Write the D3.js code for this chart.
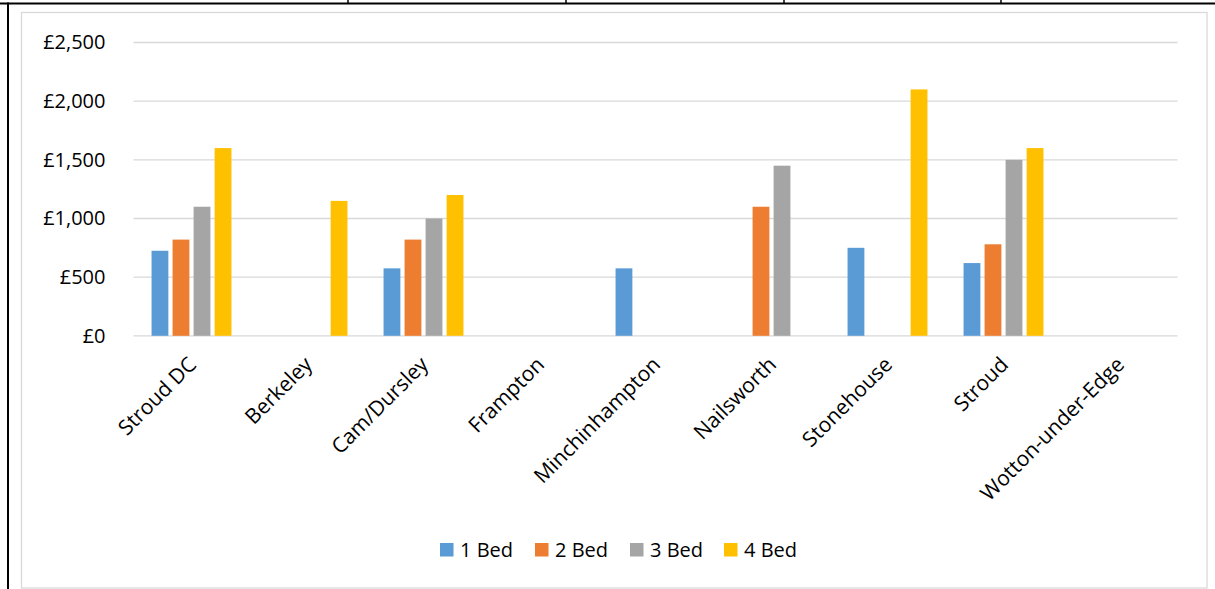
<!DOCTYPE html>
<html>
<head>
<meta charset="utf-8">
<script src="https://cdn.jsdelivr.net/npm/d3@7"></script>
<style>
  html, body { margin: 0; padding: 0; background: #fff; }
  svg { display: block; }
  text { font-family: "Open Sans", "Liberation Sans", sans-serif; fill: #000; }
</style>
</head>
<body>
<svg id="chart" width="1215" height="589"></svg>
<script>
// Average monthly private rents by area and bedroom count
const areas = ["Stroud DC", "Berkeley", "Cam/Dursley", "Frampton", "Minchinhampton",
               "Nailsworth", "Stonehouse", "Stroud", "Wotton-under-Edge"];
const seriesNames = ["1 Bed", "2 Bed", "3 Bed", "4 Bed"];
const bed1 = [725, null, 575, null, 575, null, 750, 620, null];
const bed2 = [820, null, 820, null, null, 1100, null, 780, null];
const bed3 = [1100, null, 1000, null, null, 1450, null, 1500, null];
const bed4 = [1600, 1150, 1200, null, null, null, 2100, 1600, null];
const yTicks = [0, 500, 1000, 1500, 2000, 2500];
const colors = ["#5B9BD5", "#ED7D31", "#A5A5A5", "#FFC000"];

const seriesValues = [bed1, bed2, bed3, bed4];

const svg = d3.select("#chart");
const W = 1215, H = 589;

// Surrounding table rules
svg.append("line").attr("x1", 0).attr("x2", W).attr("y1", 3.5).attr("y2", 3.5)
  .attr("stroke", "#000").attr("stroke-width", 2);
svg.append("line").attr("x1", 8).attr("x2", 8).attr("y1", 2.5).attr("y2", H)
  .attr("stroke", "#000").attr("stroke-width", 2);
[348, 566, 784, 1001].forEach(x => {
  svg.append("line").attr("x1", x).attr("x2", x).attr("y1", 0).attr("y2", 4)
    .attr("stroke", "#000").attr("stroke-width", 1.5);
});

// Chart area frame
svg.append("rect").attr("x", 21.5).attr("y", 12.5).attr("width", 1185.5).attr("height", 575.5)
  .attr("fill", "#fff").attr("stroke", "#d9d9d9").attr("stroke-width", 1.3);

const plot = { left: 133.5, right: 1177.5, top: 42.5, bottom: 335.8 };

const x0 = d3.scaleBand().domain(areas).range([plot.left, plot.right])
  .paddingInner(0.275).paddingOuter(0.1375);
const x1 = d3.scaleBand().domain(seriesNames).range([0, x0.bandwidth()])
  .paddingInner(0.2).paddingOuter(0.1);
const y = d3.scaleLinear().domain([0, 2500]).range([plot.bottom, plot.top]);

// Gridlines
svg.append("g").selectAll("line").data(yTicks).join("line")
  .attr("x1", plot.left).attr("x2", plot.right)
  .attr("y1", d => y(d)).attr("y2", d => y(d))
  .attr("stroke", "#d9d9d9").attr("stroke-width", 1.3);

// Y axis labels
const fmt = d => "£" + d3.format(",")(d);
const yAxis = svg.append("g").attr("transform", `translate(${plot.left - 28},0)`)
  .call(d3.axisLeft(y).tickValues(yTicks).tickFormat(fmt).tickSize(0).tickPadding(0));
yAxis.select(".domain").remove();
yAxis.selectAll("text").attr("font-size", 20).attr("fill", "#000")
  .style("font-family", "'Open Sans', sans-serif");

// Bars
const groups = svg.append("g").selectAll("g").data(areas).join("g")
  .attr("transform", d => `translate(${x0(d)},0)`);
groups.selectAll("rect")
  .data((a, i) => seriesNames.map((s, k) => ({ s, k, v: seriesValues[k][i] })).filter(d => d.v != null))
  .join("rect")
  .attr("x", d => x1(d.s))
  .attr("width", x1.bandwidth())
  .attr("y", d => y(d.v))
  .attr("height", d => y(0) - y(d.v))
  .attr("fill", d => colors[d.k]);

// X axis labels, rotated
const xAxis = svg.append("g").attr("transform", `translate(0,${plot.bottom})`)
  .call(d3.axisBottom(x0).tickSize(0).tickPadding(0));
xAxis.select(".domain").remove();
xAxis.selectAll("text")
  .attr("font-size", 21).attr("fill", "#000")
  .style("font-family", "'Open Sans', sans-serif")
  .attr("text-anchor", "end")
  .attr("dy", null).attr("y", 0)
  .attr("transform", "translate(6,30) rotate(-45)");

// Legend
const legendX = [440, 535, 630, 724];
const legend = svg.append("g").selectAll("g").data(seriesNames).join("g")
  .attr("transform", (d, i) => `translate(${legendX[i]},543)`);
legend.append("rect").attr("width", 13.5).attr("height", 13.5)
  .attr("fill", (d, i) => colors[i]);
legend.append("text").attr("x", 20).attr("y", 14)
  .attr("font-size", 20).text(d => d);
</script>
</body>
</html>
